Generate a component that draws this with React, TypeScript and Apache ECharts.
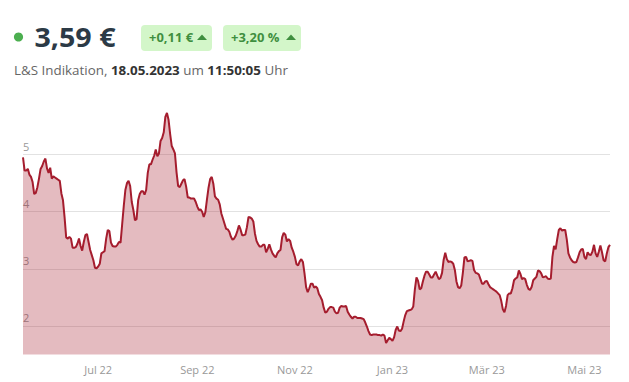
import React, { useEffect, useRef } from 'react';
import * as echarts from 'echarts';

// ---- data ----
const startDate = '2022-05-15'; // first calendar day of the series (one value per day)
const prices: number[] = [
  // May/Jun 2022
  4.95, 4.72, 4.72, 4.75, 4.65, 4.61, 4.52, 4.31, 4.33, 4.43, 4.58, 4.75, 4.80, 4.88, 4.93, 4.76,
  4.68, 4.77, 4.58, 4.62, 4.60, 4.58, 4.56, 4.54, 4.32, 4.20, 3.90, 3.55, 3.53, 3.56, 3.53, 3.37,
  3.37, 3.38, 3.44, 3.53, 3.40, 3.32, 3.47, 3.59, 3.61, 3.47, 3.33, 3.24, 3.15, 3.02, 3.01, 3.04,
  3.09, 3.27, 3.29, 3.31, 3.53, 3.68, 3.66, 3.46, 3.40, 3.39, 3.39, 3.42, 3.47,
  // Jul/Aug/Sep 2022
  3.46, 3.78, 4.10, 4.38, 4.50, 4.54, 4.45, 4.17, 4.03, 3.85, 3.87, 4.20, 4.31, 4.36, 4.36, 4.30,
  4.38, 4.68, 4.83, 4.83, 4.91, 4.98, 5.09, 4.97, 5.02, 5.24, 5.29, 5.39, 5.66, 5.73, 5.61, 5.36,
  5.15, 5.09, 5.02, 4.69, 4.45, 4.43, 4.49, 4.55, 4.57, 4.44, 4.25, 4.25, 4.23, 4.23, 4.23, 4.17,
  4.09, 4.03, 4.04, 4.00, 3.91, 3.99, 4.21, 4.42, 4.57, 4.61, 4.49, 4.27,
  // Sep/Oct/Nov 2022
  4.23, 4.21, 4.13, 3.97, 3.88, 3.79, 3.70, 3.69, 3.65, 3.56, 3.51, 3.53, 3.58, 3.66, 3.76, 3.69,
  3.59, 3.59, 3.60, 3.73, 3.91, 3.90, 3.88, 3.83, 3.62, 3.49, 3.43, 3.39, 3.39, 3.42, 3.42, 3.29,
  3.35, 3.43, 3.34, 3.27, 3.23, 3.20, 3.27, 3.31, 3.33, 3.55, 3.63, 3.60, 3.48, 3.52, 3.49, 3.37,
  3.30, 3.21, 3.08, 3.06, 3.13, 3.17, 3.12, 2.92, 2.68, 2.59,
  // Nov/Dec 2022, Jan 2023
  2.66, 2.74, 2.74, 2.67, 2.69, 2.66, 2.56, 2.51, 2.45, 2.32, 2.23, 2.25, 2.30, 2.33, 2.33, 2.32,
  2.25, 2.22, 2.23, 2.32, 2.35, 2.34, 2.34, 2.35, 2.25, 2.20, 2.16, 2.13, 2.16, 2.16, 2.14, 2.14,
  2.14, 2.13, 2.12, 2.06, 1.99, 1.91, 1.85, 1.84, 1.85, 1.85, 1.85, 1.84, 1.84, 1.83, 1.85, 1.83,
  1.70, 1.75, 1.79, 1.77, 1.74, 1.80, 1.93, 1.99, 1.92, 1.91, 1.95, 2.08, 2.19,
  // Jan/Feb/Mar 2023
  2.26, 2.27, 2.28, 2.29, 2.34, 2.64, 2.85, 2.79, 2.64, 2.66, 2.78, 2.88, 2.95, 2.95, 2.90, 2.85,
  2.85, 2.90, 2.95, 2.88, 2.82, 2.84, 2.93, 3.16, 3.28, 3.17, 3.12, 3.13, 3.12, 3.09, 2.98, 2.78,
  2.68, 2.66, 2.71, 2.93, 3.20, 3.21, 3.13, 3.14, 3.15, 3.14, 2.98, 2.93, 2.92, 2.90, 2.82, 2.74,
  2.74, 2.78, 2.79, 2.73, 2.68, 2.66, 2.64, 2.62, 2.60, 2.57, 2.54,
  // Mar/Apr/May 2023
  2.44, 2.29, 2.24, 2.35, 2.54, 2.57, 2.57, 2.66, 2.80, 2.83, 2.85, 2.97, 2.91, 2.82, 2.84, 2.82,
  2.72, 2.65, 2.63, 2.68, 2.80, 2.83, 2.86, 2.97, 2.96, 2.92, 2.85, 2.86, 2.87, 2.83, 2.82, 2.83,
  3.21, 3.40, 3.34, 3.52, 3.68, 3.71, 3.67, 3.68, 3.68, 3.51, 3.27, 3.20, 3.15, 3.12, 3.11, 3.12,
  3.20, 3.29, 3.34, 3.35, 3.21, 3.17, 3.29, 3.25, 3.24, 3.30, 3.42, 3.27, 3.21, 3.30, 3.41, 3.29,
  3.15, 3.13, 3.27, 3.38, 3.42,
];
const yMin = 1.5;
const yMax = 6;
const yStep = 0.5;
const monthNames = ['Jan', 'Feb', 'Mär', 'Apr', 'Mai', 'Jun', 'Jul', 'Aug', 'Sep', 'Okt', 'Nov', 'Dez'];
const labelledMonths = [1, 3, 5, 7, 9, 11]; // Jan, Mär, Mai, Jul, Sep, Nov
const priceText = '3,59 €';
const changeAbs = '+0,11 €';
const changePct = '+3,20 %';
const sourceText = 'L&S Indikation, ';
const dateText = '18.05.2023';
const timeText = '11:50:05';

const FONT = '"Open Sans", "Noto Sans", sans-serif';

function buildDates(start: string, n: number): string[] {
  const [y, m, d] = start.split('-').map(Number);
  const base = Date.UTC(y, m - 1, d);
  const out: string[] = [];
  for (let i = 0; i < n; i++) out.push(new Date(base + i * 86400000).toISOString().slice(0, 10));
  return out;
}

export default function App() {
  const ref = useRef<HTMLDivElement>(null);

  useEffect(() => {
    if (!ref.current) return;
    const chart = echarts.init(ref.current, undefined, { renderer: 'svg' });
    const dates = buildDates(startDate, prices.length);
    const lineColor = '#a51d2e';
    const green = '#3f8f3f';

    chart.setOption({
      animation: false,
      textStyle: { fontFamily: FONT },
      grid: { left: 23, right: 19, top: 97.5, bottom: 27.5, containLabel: false },
      xAxis: {
        type: 'category',
        data: dates,
        boundaryGap: false,
        axisLine: { show: false },
        axisTick: { show: false },
        splitLine: { show: false },
        axisLabel: {
          color: '#999',
          fontSize: 11,
          fontFamily: FONT,
          margin: 9,
          hideOverlap: false,
          interval: (_i: number, v: string) =>
            v.slice(8, 10) === '01' && labelledMonths.includes(Number(v.slice(5, 7))),
          formatter: (v: string) => `${monthNames[Number(v.slice(5, 7)) - 1]} ${v.slice(2, 4)}`,
        },
      },
      yAxis: {
        type: 'value',
        min: yMin,
        max: yMax,
        interval: yStep,
        axisLine: { show: false },
        axisTick: { show: false },
        axisLabel: {
          inside: true,
          margin: 0,
          color: '#999',
          fontSize: 11,
          fontFamily: FONT,
          verticalAlign: 'bottom',
          padding: [0, 0, 3, 0],
          showMaxLabel: false,
          formatter: (v: number) => (Number.isInteger(v) && v < yMax ? String(v) : ''),
        },
        splitLine: {
          show: true,
          showMaxLine: false,
          lineStyle: { color: ['rgba(0,0,0,0)', '#e2e2e2'], width: 1 },
        },
      },
      series: [
        {
          type: 'line',
          data: prices,
          symbol: 'none',
          showSymbol: false,
          lineStyle: { color: lineColor, width: 2 },
          itemStyle: { color: lineColor },
          areaStyle: { color: lineColor, opacity: 0.3 },
        },
      ],
      graphic: [
        { type: 'circle', shape: { cx: 18.5, cy: 37, r: 4.6 }, style: { fill: '#4caf50' } },
        {
          type: 'text',
          x: 34.5,
          y: 37.5,
          scaleX: 1.1,
          style: { text: priceText, x: 0, y: 0, verticalAlign: 'middle', fill: '#2c3a46', font: `bold 26px ${FONT}` },
        },
        { type: 'rect', shape: { x: 141, y: 25, width: 71, height: 26, r: 4 }, style: { fill: '#d3f6c9' } },
        {
          type: 'text',
          x: 149,
          y: 38,
          scaleX: 1.08,
          style: { text: changeAbs, x: 0, y: 0, verticalAlign: 'middle', fill: green, font: `bold 12px ${FONT}` },
        },
        { type: 'polygon', shape: { points: [[197, 40], [207, 40], [202, 34.5]] }, style: { fill: green } },
        { type: 'rect', shape: { x: 223, y: 25, width: 78, height: 26, r: 4 }, style: { fill: '#d3f6c9' } },
        {
          type: 'text',
          x: 231,
          y: 38,
          scaleX: 1.08,
          style: { text: changePct, x: 0, y: 0, verticalAlign: 'middle', fill: green, font: `bold 12px ${FONT}` },
        },
        { type: 'polygon', shape: { points: [[286, 40], [296, 40], [291, 34.5]] }, style: { fill: green } },
        {
          type: 'text',
          x: 14,
          y: 70.5,
          scaleX: 1.03,
          style: {
            x: 0,
            y: 0,
            verticalAlign: 'middle',
            text: `{n|${sourceText}}{b|${dateText}}{n| um }{b|${timeText}}{n| Uhr}`,
            rich: {
              n: { fontSize: 13, fontFamily: FONT, fill: '#666', color: '#666' },
              b: { fontSize: 13, fontFamily: FONT, fontWeight: 'bold', fill: '#333', color: '#333' },
            },
          },
        },
      ],
    });

    return () => chart.dispose();
  }, []);

  return (
    <div
      ref={ref}
      style={{ position: 'fixed', left: 0, top: 0, width: 629, height: 382, background: '#fff' }}
    />
  );
}
